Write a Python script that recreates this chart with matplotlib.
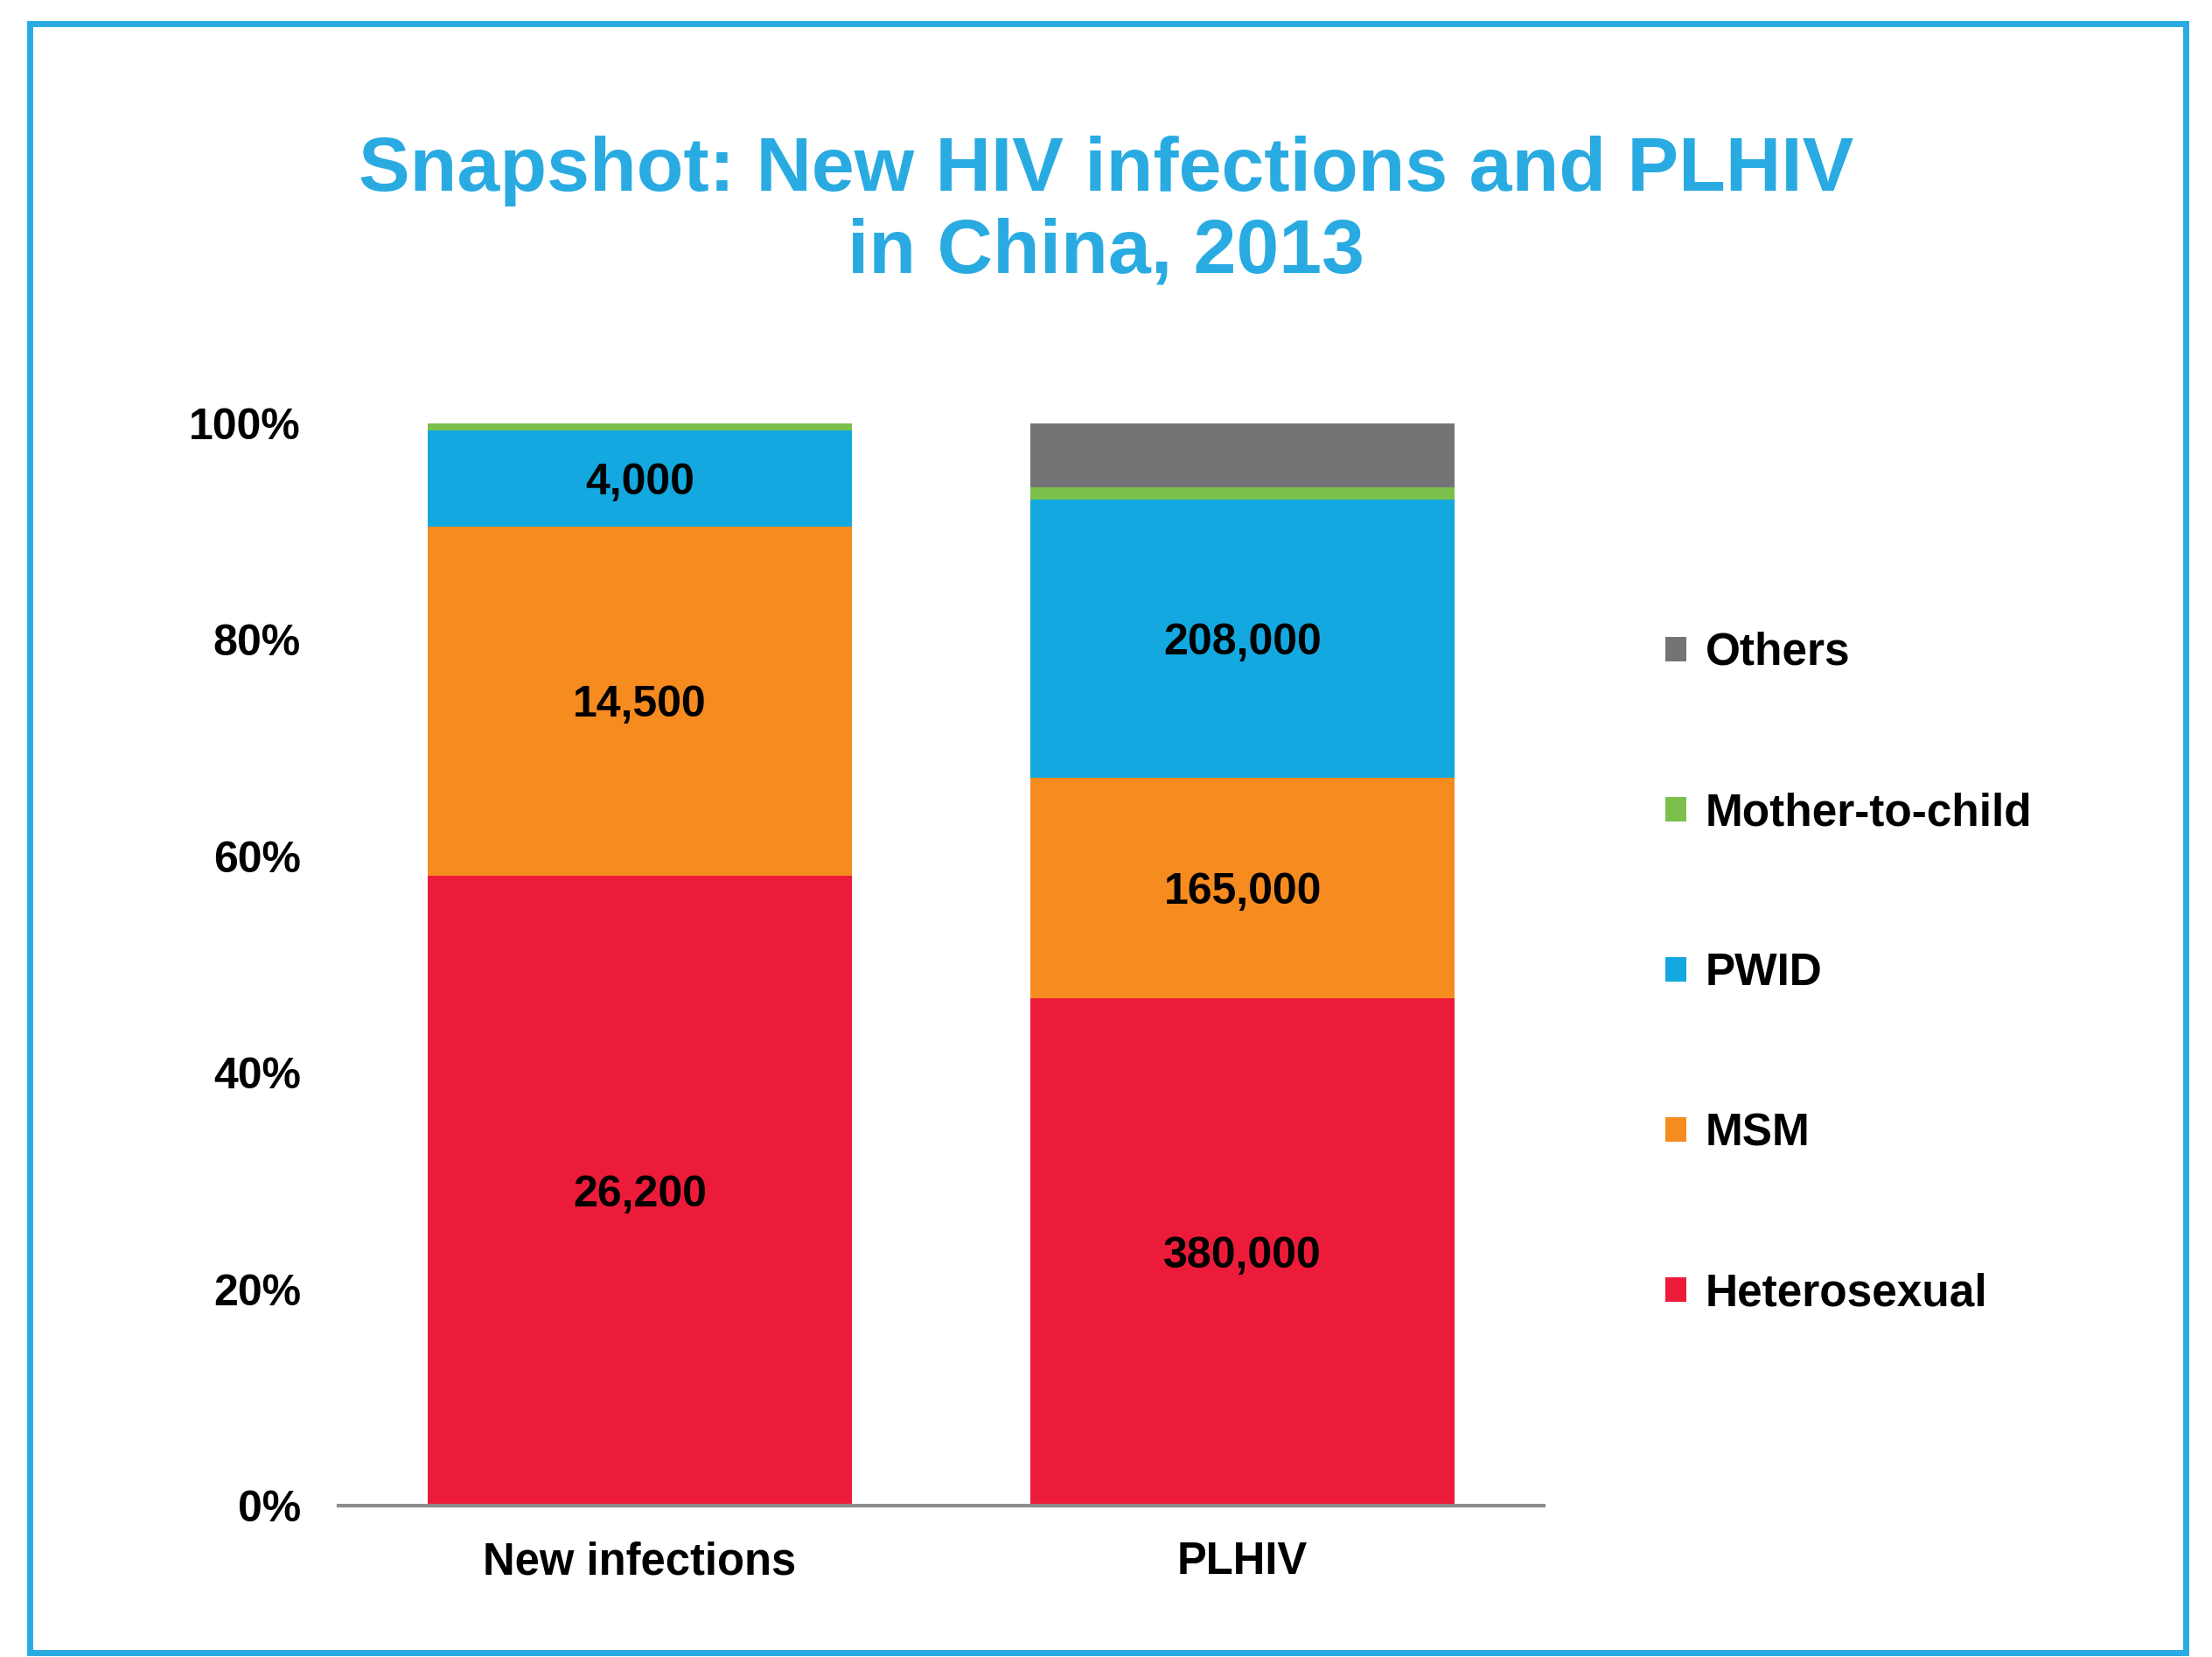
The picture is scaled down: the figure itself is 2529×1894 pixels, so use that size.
import matplotlib.pyplot as plt
from matplotlib.patches import Rectangle, Patch
from matplotlib import font_manager

plt.rcParams['font.family'] = ['Liberation Sans', 'DejaVu Sans']

# Data
groups = ['New infections', 'PLHIV']
categories = ['Heterosexual', 'MSM', 'PWID', 'Mother-to-child', 'Others']
heterosexual = [26200, 380000]
msm = [14500, 165000]
pwid = [4000, 208000]
mother_to_child = [300, 9000]
others = [0, 48000]
yticks = [0, 20, 40, 60, 80, 100]

colors = ['#ED1B3A', '#F68B1F', '#13A8DF', '#7AC04A', '#747476']
TITLE_COLOR = '#29ABE2'

# bar labels look like a narrow bold face
names = {f.name for f in font_manager.fontManager.ttflist}
NARROW = 'Liberation Sans Narrow' if 'Liberation Sans Narrow' in names else 'Liberation Sans'
LABEL_SIZE = 41 if NARROW == 'Liberation Sans Narrow' else 36

series = [heterosexual, msm, pwid, mother_to_child, others]
totals = [sum(s[i] for s in series) for i in range(len(groups))]
pct = [[v / totals[i] * 100 for i, v in enumerate(s)] for s in series]

fig = plt.figure(figsize=(25.29, 18.94), dpi=100)
ax = fig.add_axes([0.153, 0.0914, 0.545, 0.653])

x = list(range(len(groups)))
bottom = [0.0] * len(groups)
labeled = [True, True, True, False, False]
for s, p, c, lab in zip(series, pct, colors, labeled):
    ax.bar(x, p, bottom=bottom, width=0.703, color=c, edgecolor='none', zorder=2)
    if lab:
        for i in x:
            ax.text(i, bottom[i] + p[i] / 2 - 0.4, f'{s[i]:,}', ha='center', va='center',
                    fontsize=LABEL_SIZE, fontweight='bold', color='black', family=NARROW)
    bottom = [b + v for b, v in zip(bottom, p)]

ax.set_xlim(-0.5, 1.5)
ax.set_ylim(0, 100)
ax.set_yticks(yticks)
ax.set_yticklabels([f'{t}%' for t in yticks], fontsize=36, fontweight='bold')
ax.set_xticks(x)
ax.set_xticklabels(groups, fontsize=36.5, fontweight='bold')
ax.tick_params(axis='both', length=0)
ax.tick_params(axis='y', pad=31)
ax.tick_params(axis='x', pad=29)
for side in ['top', 'right', 'left']:
    ax.spines[side].set_visible(False)
ax.spines['bottom'].set_color('#8C8C8C')
ax.spines['bottom'].set_linewidth(3)
ax.spines['bottom'].set_zorder(3)

fig.text(0.5, 0.872, 'Snapshot: New HIV infections and PLHIV\nin China, 2013',
         ha='center', va='center', fontsize=63.3, fontweight='bold',
         color=TITLE_COLOR, linespacing=1.2)

handles = [Patch(facecolor=c, edgecolor='none') for c in colors[::-1]]
fig.legend(handles, categories[::-1], loc='center left', bbox_to_anchor=(0.753, 0.4125),
           frameon=False, prop={'size': 37, 'weight': 'bold'}, borderpad=0, borderaxespad=0,
           handlelength=0.47, handleheight=0.47, handletextpad=0.42, labelspacing=2.61)

# outer frame
fig.patches.append(Rectangle((0.0134, 0.0026), 0.9746, 0.9829, transform=fig.transFigure,
                             fill=False, edgecolor=TITLE_COLOR, linewidth=5))

fig.savefig('out.png', dpi=100)
